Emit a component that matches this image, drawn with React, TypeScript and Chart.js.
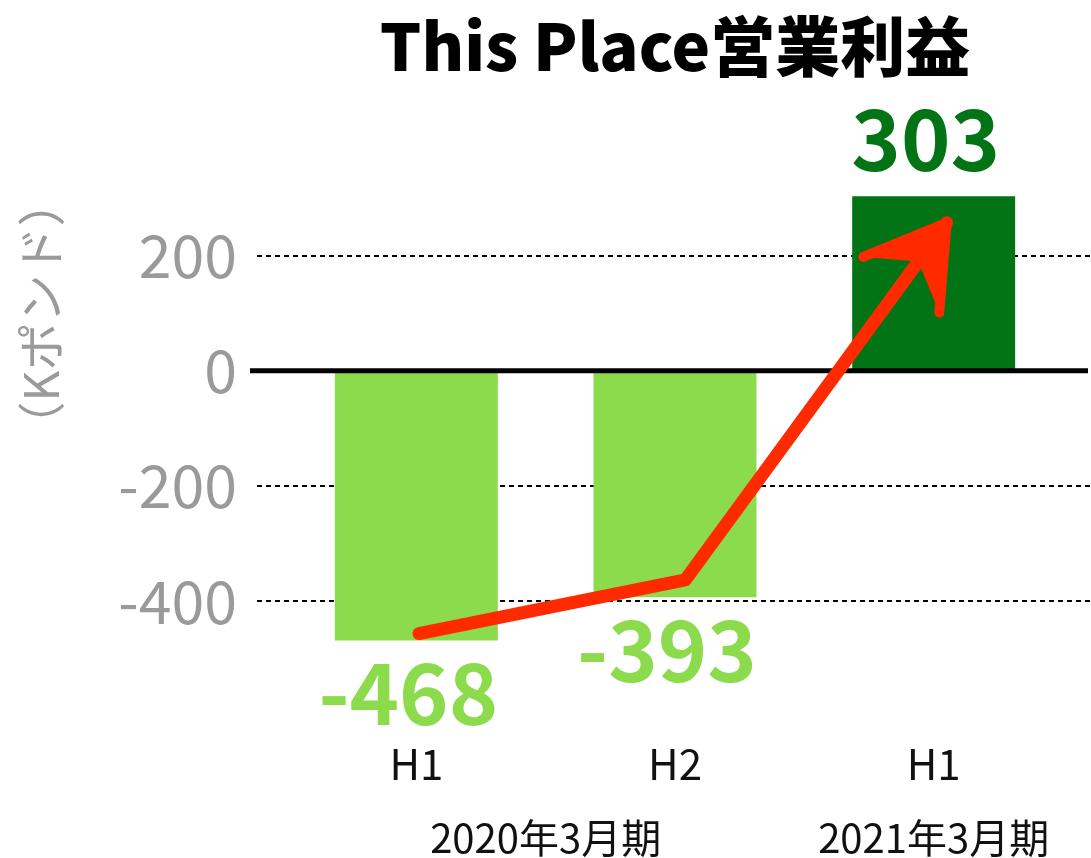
import React, { useEffect, useRef } from 'react';
import { Chart, registerables } from 'chart.js';

Chart.register(...registerables);

const categories = ['H1', 'H2', 'H1'];
const values = [-468, -393, 303];
const barColors = ['#8CDB4C', '#8CDB4C', '#037416'];
const yTickValues = [-400, -200, 0, 200];
const groupLabels = ['2020年3月期', '2021年3月期'];
const groupStart = [0, 2];
const groupEnd = [1, 2];
const arrowX = [0.01, 1.04, 2.05];
const arrowY = [-456, -363, 257];
const titleText = 'This Place営業利益';
const yTitle = '（Kポンド）';

const FONT = '"Noto Sans CJK JP", "Noto Sans", sans-serif';
const GRAY = '#9A9A9A';
const ARROW = '#FF2A00';

const decorPlugin = {
  id: 'decor',
  beforeDatasetsDraw(chart: any) {
    const { ctx, chartArea, scales } = chart;
    const y = scales.y;
    ctx.save();
    ctx.strokeStyle = '#000';
    ctx.lineWidth = 2;
    ctx.setLineDash([5, 4]);
    yTickValues.forEach((v) => {
      if (v === 0) return;
      const py = Math.round(y.getPixelForValue(v));
      ctx.beginPath();
      ctx.moveTo(chartArea.left - 30, py);
      ctx.lineTo(chart.width, py);
      ctx.stroke();
    });
    ctx.restore();
  },
  afterDatasetDraw(chart: any, args: any) {
    if (args.index !== 0) return;
    const { ctx, chartArea, scales } = chart;
    const py = scales.y.getPixelForValue(0);
    ctx.save();
    ctx.strokeStyle = '#000';
    ctx.lineWidth = 5;
    ctx.beginPath();
    ctx.moveTo(chartArea.left - 37, py);
    ctx.lineTo(chart.width - 3, py);
    ctx.stroke();
    ctx.restore();
  },
  afterDatasetsDraw(chart: any) {
    const { ctx, scales } = chart;
    ctx.save();
    // arrow head
    const pts = chart.getDatasetMeta(1).data;
    if (pts.length >= 2) {
      const tip = pts[pts.length - 1];
      const prev = pts[pts.length - 2];
      const ang = Math.atan2(tip.y - prev.y, tip.x - prev.x);
      const back = ang + Math.PI;
      const len = 90;
      const spread = 0.55;
      const b1 = { x: tip.x + len * Math.cos(back - spread), y: tip.y + len * Math.sin(back - spread) };
      const b2 = { x: tip.x + len * Math.cos(back + spread), y: tip.y + len * Math.sin(back + spread) };
      const mid = { x: tip.x + 48 * Math.cos(back), y: tip.y + 48 * Math.sin(back) };
      ctx.fillStyle = ARROW;
      ctx.strokeStyle = ARROW;
      ctx.lineJoin = 'round';
      ctx.lineCap = 'round';
      ctx.beginPath();
      ctx.moveTo(tip.x, tip.y);
      ctx.lineTo(b1.x, b1.y);
      ctx.lineTo(mid.x, mid.y);
      ctx.lineTo(b2.x, b2.y);
      ctx.closePath();
      ctx.fill();
      ctx.lineWidth = 10;
      ctx.beginPath();
      ctx.moveTo(b1.x, b1.y);
      ctx.lineTo(tip.x, tip.y);
      ctx.lineTo(b2.x, b2.y);
      ctx.stroke();
    }
    // data labels
    const bars = chart.getDatasetMeta(0).data;
    ctx.font = `700 84px ${FONT}`;
    ctx.textAlign = 'center';
    ctx.textBaseline = 'alphabetic';
    bars.forEach((el: any, i: number) => {
      const v = values[i];
      ctx.fillStyle = barColors[i];
      const tx = el.x - 8;
      if (v >= 0) ctx.fillText(String(v), tx, el.y - 25);
      else ctx.fillText(String(v), tx, el.y + 85);
    });
    // group labels
    const x = scales.x;
    ctx.font = `400 40px ${FONT}`;
    ctx.fillStyle = '#111';
    ctx.textBaseline = 'middle';
    groupLabels.forEach((g, i) => {
      const cx = (x.getPixelForValue(groupStart[i]) + x.getPixelForValue(groupEnd[i])) / 2;
      ctx.fillText(g, cx, 838);
    });
    // y axis title
    ctx.translate(41, 314);
    ctx.rotate(-Math.PI / 2);
    ctx.font = `400 48px ${FONT}`;
    ctx.fillStyle = GRAY;
    ctx.textAlign = 'center';
    ctx.textBaseline = 'middle';
    ctx.fillText(yTitle, 0, 0);
    ctx.restore();
  },
};

export default function App() {
  const ref = useRef<HTMLCanvasElement | null>(null);
  useEffect(() => {
    if (!ref.current) return;
    const chart = new Chart(ref.current, {
      type: 'bar',
      data: {
        labels: categories,
        datasets: [
          {
            type: 'bar',
            data: values,
            backgroundColor: barColors,
            borderWidth: 0,
            grouped: false,
            categoryPercentage: 1,
            barPercentage: 0.63,
            xAxisID: 'x',
            yAxisID: 'y',
            order: 2,
          } as any,
          {
            type: 'line',
            data: arrowX.map((xv, i) => ({ x: xv, y: arrowY[i] })),
            borderColor: ARROW,
            borderWidth: 13,
            pointRadius: 0,
            tension: 0,
            fill: false,
            borderCapStyle: 'round',
            borderJoinStyle: 'round',
            xAxisID: 'x2',
            yAxisID: 'y',
            clip: false,
            order: 1,
          } as any,
        ],
      },
      options: {
        responsive: false,
        animation: false,
        layout: { padding: { left: 0, right: 28, top: 0, bottom: 0 } },
        plugins: {
          legend: { display: false },
          tooltip: { enabled: false },
          title: {
            display: true,
            text: titleText,
            fullSize: false,
            color: '#000',
            font: { family: FONT, size: 65, weight: '900' as any },
            padding: { top: 7, bottom: 90 },
          },
        },
        scales: {
          x: {
            type: 'category',
            offset: true,
            grid: { display: false, drawTicks: false },
            border: { display: false },
            ticks: {
              color: '#111',
              font: { family: FONT, size: 42 },
              padding: 11,
              maxRotation: 0,
            },
            afterFit: (s: any) => {
              s.height = 130;
            },
          },
          x2: {
            type: 'linear',
            display: false,
            offset: false,
            grid: { offset: false },
            min: -0.5,
            max: 2.5,
          },
          y: {
            type: 'linear',
            min: -620,
            max: 340,
            grid: { display: false, drawTicks: false },
            border: { display: false },
            afterBuildTicks: (s: any) => {
              s.ticks = yTickValues.map((v) => ({ value: v }));
            },
            ticks: {
              color: GRAY,
              font: { family: FONT, size: 59 },
              padding: 50,
            },
            afterFit: (s: any) => {
              s.width = 287;
            },
          },
        },
      },
      plugins: [decorPlugin],
    });
    return () => chart.destroy();
  }, []);
  return (
    <div style={{ position: 'fixed', left: 0, top: 0, width: 1091, height: 858, background: '#fff' }}>
      <canvas ref={ref} width={1091} height={858} style={{ display: 'block' }} />
    </div>
  );
}
